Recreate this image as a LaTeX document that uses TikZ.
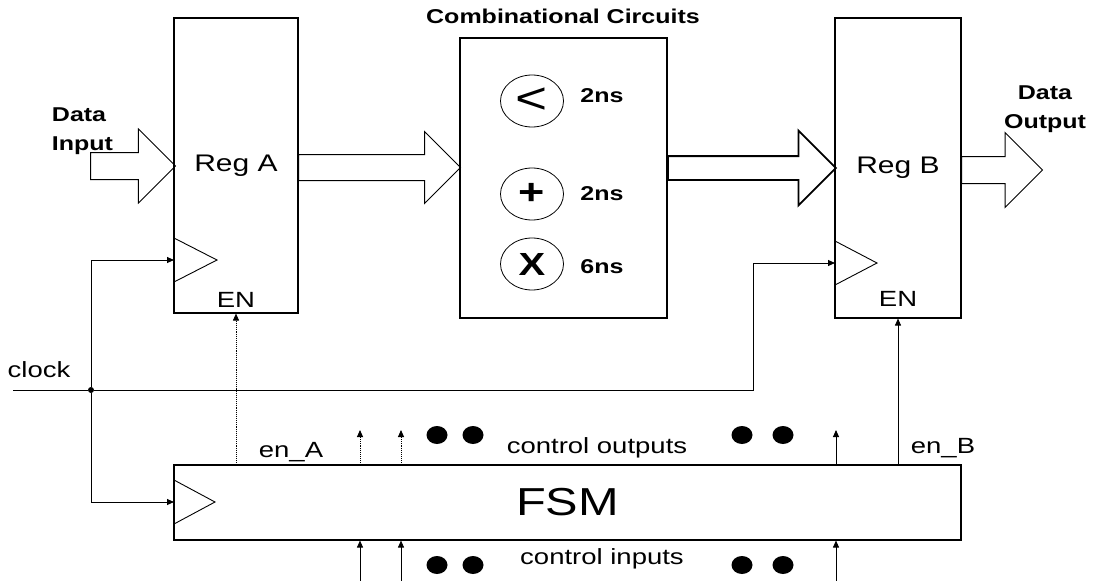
\documentclass[tikz,border=0pt]{standalone}
\usepackage{fontspec}
\setmainfont{Liberation Sans}[FakeStretch=1.25]
\usetikzlibrary{positioning,arrows.meta,calc,shapes.geometric,shapes.arrows}

\begin{document}
\begin{tikzpicture}[
    x=1pt, y=-1pt,
    reg/.style={rectangle, draw, line width=1.1pt, font=\fontsize{24}{28}\selectfont},
    opcirc/.style={ellipse, draw, line width=0.8pt, minimum width=63pt, minimum height=52pt, inner sep=0pt},
    bus/.style={single arrow, draw, line width=1pt, anchor=tail, inner xsep=0pt, single arrow head indent=0pt, single arrow tip angle=90},
    txt/.style={font=\fontsize{22}{28}\selectfont, inner sep=0pt, anchor=base},
    btxt/.style={font=\bfseries\fontsize{20}{28.5}\selectfont, inner sep=0pt, anchor=base},
    blob/.style={ellipse, fill, minimum width=21pt, minimum height=18pt, inner sep=0pt},
    wire/.style={line width=0.9pt, -{Triangle[length=7pt,width=6pt]}}
]
  \useasboundingbox (0,0) rectangle (1093,581);

  % blocks
  \node[reg, minimum width=124pt, minimum height=295pt] (regA) at (236,165.5) {Reg A};
  \node[reg, minimum width=207pt, minimum height=280pt] (comb) at (563.5,178) {};
  \node[reg, minimum width=126pt, minimum height=300pt] (regB) at (898,168) {Reg B};
  \node[reg, minimum width=787pt, minimum height=75pt, font=\fontsize{39}{40}\selectfont] (fsm) at (567.5,502.5) {FSM};

  \node[txt, above=6pt of regA.south] (enA) {EN};
  \node[txt, above=12pt of regB.south] (enB) {EN};
  \node[btxt] (combtitle) at (563,23) {Combinational Circuits};

  % operators
  \node[opcirc, font=\fontsize{44}{44}\selectfont] (lt) at (532,101) {<};
  \node[opcirc, font=\bfseries\fontsize{36}{36}\selectfont] (plus) at (532,194) {+};
  \node[opcirc, font=\bfseries\fontsize{32}{32}\selectfont] (times) at (532,264) {X};
  \node[btxt] (ltns) at (602,102) {2ns};
  \node[btxt] (plusns) at (602,200) {2ns};
  \node[btxt] (timesns) at (602,273) {6ns};

  % data path
  \node[bus, minimum height=85pt, inner ysep=13pt, single arrow head extend=23.5pt] (busin) at (90,166) {};
  \node[bus, minimum height=162pt, inner ysep=12.5pt, single arrow head extend=23pt] (busac) at (298,167.5) {};
  \node[bus, line width=1.8pt, minimum height=168pt, inner ysep=11pt, single arrow head extend=25.5pt] (buscb) at (667,168) {};
  \node[bus, minimum height=81pt, inner ysep=13pt, single arrow head extend=24pt] (busout) at (961,170) {};
  \node[btxt, align=left, anchor=center] (datain) at (82.5,131) {Data\\Input};
  \node[btxt, align=center, anchor=center] (dataout) at (1045,109) {Data\\Output};

  % clock
  \coordinate (clkin) at (13,390);
  \coordinate (clkA) at (174,260);
  \coordinate (clkB) at (835,263);
  \coordinate (clkF) at (174,502);
  \coordinate (clkbend) at (753,390);
  \node[circle, fill, inner sep=0pt, minimum size=6pt] (jn) at (91,390) {};
  \node[txt] (clocklbl) at (39,377) {clock};
  \foreach \c/\h in {clkA/43, clkB/42, clkF/41}
    \draw[line width=0.9pt] ($(\c)+(0,-22)$) -- ($(\c)+(\h,0)$) -- ($(\c)+(0,22)$);
  \draw[line width=0.9pt] (clkin) -- (jn);
  \draw[wire] (jn) |- (clkA);
  \draw[wire] (jn) |- (clkF);
  \draw[wire] (jn) -- (clkbend) |- (clkB);

  % enables and control lines
  \draw[wire, densely dotted] (regA.south |- fsm.north) -- (regA.south);
  \draw[wire] (regB.south |- fsm.north) -- (regB.south);
  \node[txt] (enAlbl) at (291,457) {en\_A};
  \node[txt] (enBlbl) at (943,453) {en\_B};
  \foreach \x/\sty [count=\i] in {360/densely dotted, 401/densely dotted, 836/solid} {
    \coordinate (co\i) at (\x,430);
    \coordinate (ci\i) at (\x,581);
    \draw[wire, \sty] (co\i |- fsm.north) -- (co\i);
    \draw[wire] (ci\i) -- (ci\i |- fsm.south);
  }
  \foreach \x in {437,473,742,783} {
    \node[blob] (dto\x) at (\x,435) {};
    \node[blob] (dti\x) at (\x,565) {};
  }
  \node[txt] (ctrlout) at (597,453) {control outputs};
  \node[txt] (ctrlin) at (602,564) {control inputs};
\end{tikzpicture}
\end{document}
